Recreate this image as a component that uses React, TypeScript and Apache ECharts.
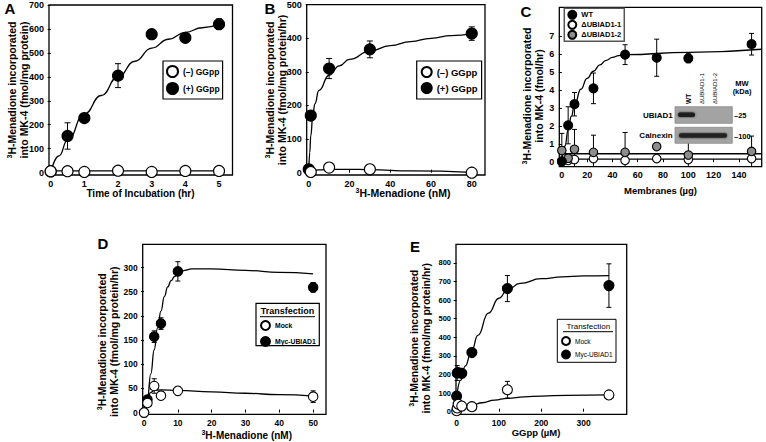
import React, { useEffect, useRef } from 'react';
import * as echarts from 'echarts';

const FONT = '"Liberation Sans", Arial, Helvetica, sans-serif';

// ---------- Panel A ----------
const aTime = [0, 0.5, 1, 2, 3, 4, 5];
const aPlus = [5, 153, 228, 405, 578, 563, 620];
const aPlusErr = [0, 55, 0, 50, 20, 0, 22];
const aMinus = [6, 6, 3, 8, 3, 7, 7];
const aMinusErr = [0, 0, 18, 0, 18, 0, 0];
const aFitX = [0, 0.25, 0.5, 1, 1.5, 2, 2.5, 3, 3.5, 4, 4.5, 5];
const aFitPlus = [0, 70, 136, 245, 322, 400, 465, 520, 557, 586, 605, 620];
const aFitMinusX = [0, 5];
const aFitMinus = [7, 7];
const aXTicks = [0, 1, 2, 3, 4, 5];
const aYTicks = [0, 100, 200, 300, 400, 500, 600, 700];

// ---------- Panel B ----------
const bConc = [0, 1, 10, 30, 80];
const bPlus = [10, 170, 310, 367, 414];
const bPlusErr = [0, 0, 30, 25, 20];
const bMinusX = [1, 10, 30, 80];
const bMinus = [2, 15, 10, 0];
const bFitX = [0, 0.5, 1, 2, 3, 5, 10, 15, 20, 30, 40, 50, 60, 70, 80];
const bFitPlus = [0, 60, 110, 170, 205, 245, 290, 318, 337, 362, 378, 390, 400, 408, 414];
const bFitMinusX = [0, 5, 10, 20, 30, 50, 80];
const bFitMinus = [3, 8, 10, 10, 9, 5, 1];
const bXTicks = [0, 20, 40, 60, 80];
const bYTicks = [0, 100, 200, 300, 400, 500];

// ---------- Panel C ----------
const cMem = [0, 5, 10, 25, 50, 75, 100, 150];
const cWT = [0.05, 2.05, 3.22, 4.1, 5.97, 5.8, 5.77, 6.55];
const cWTErr = [0, 1.03, 0.65, 0.85, 0.55, 1.03, 0.25, 0.6];
const cKO1 = [0.05, 0.1, 0.15, 0.2, 0.1, 0.2, 0.15, 0.2];
const cKO2 = [0.65, 0.22, 0.72, 0.55, 0.55, 0.87, 0.4, 0.6];
const cKO2Err = [0.95, 0, 1.1, 0.95, 1.1, 0, 0.9, 0.85];
const cFitX = [0, 2.5, 5, 7.5, 10, 15, 20, 25, 30, 35, 40, 45, 50, 100, 158];
const cFitWT = [0, 0.9, 1.8, 2.55, 3.15, 4.05, 4.65, 5.05, 5.4, 5.65, 5.82, 5.92, 5.97, 6.1, 6.27];
const cFitFlatX = [-2, 158];
const cFitKO1 = [0.17, 0.17];
const cFitKO2 = [0.47, 0.47];
const cXTicks = [0, 20, 40, 60, 80, 100, 120, 140];
const cYTicks = [0, 1, 2, 3, 4, 5, 6, 7];

// ---------- Panel D ----------
const dConc = [0, 1, 3, 5, 10, 50];
const dMyc = [0, 27, 157, 184, 292, 259];
const dMycErr = [0, 5, 12, 12, 20, 10];
const dMock = [0, 20, 55, 35, 45, 33];
const dMockErr = [0, 0, 15, 0, 8, 12];
const dFitMycX = [0, 1, 2, 3, 4, 5, 6, 7, 8, 9, 10, 12, 14, 20, 30, 40, 50];
const dFitMyc = [5, 30, 80, 130, 175, 210, 240, 260, 273, 281, 287, 294, 297, 297, 294, 290, 287];
const dFitMockX = [0, 1, 2, 3, 5, 10, 20, 30, 40, 50];
const dFitMock = [8, 30, 42, 46, 47, 46, 43, 40, 37, 34];
const dXTicks = [0, 10, 20, 30, 40, 50];
const dYTicks = [0, 50, 100, 150, 200, 250, 300];

// ---------- Panel E ----------
const eGG = [0, 1.2, 3.6, 12, 36, 120, 360];
const eMyc = [84, 208, 210, 206, 318, 662, 678];
const eMycErr = [0, 40, 0, 0, 15, 70, 117];
const eMock = [5, 20, 40, 30, 27, 118, 90];
const eMockErr = [0, 0, 0, 0, 0, 45, 10];
const eFitMycX = [0, 10, 20, 36, 50, 75, 100, 120, 150, 200, 250, 300, 360];
const eFitMyc = [80, 170, 245, 330, 410, 530, 610, 655, 690, 715, 725, 730, 732];
const eFitMockX = [0, 12, 36, 60, 90, 120, 160, 200, 260, 360];
const eFitMock = [15, 22, 35, 48, 62, 72, 80, 84, 88, 90];
const eXTicks = [0, 100, 200, 300];
const eYTicks = [0, 100, 200, 300, 400, 500, 600, 700, 800];

const pts = (xs: number[], ys: number[]) => xs.map((x, i) => [x, ys[i]]);
const errs = (xs: number[], ys: number[], es: number[]) =>
  xs.map((x, i) => [x, ys[i] - es[i], ys[i] + es[i]]).filter((d) => d[2] > d[1]);

function errSeries(idx: number, data: number[][], cap = 3, clip = false) {
  return {
    type: 'custom',
    xAxisIndex: idx,
    yAxisIndex: idx,
    data,
    z: 2,
    silent: true,
    clip,
    encode: { x: 0, y: [1, 2] },
    renderItem: (_p: any, api: any) => {
      const x = api.value(0);
      const p1 = api.coord([x, api.value(2)]);
      const p2 = api.coord([x, api.value(1)]);
      const st = { stroke: '#000', lineWidth: 1 };
      return {
        type: 'group',
        children: [
          { type: 'line', shape: { x1: p1[0], y1: p1[1], x2: p2[0], y2: p2[1] }, style: st },
          { type: 'line', shape: { x1: p1[0] - cap, y1: p1[1], x2: p1[0] + cap, y2: p1[1] }, style: st },
          { type: 'line', shape: { x1: p2[0] - cap, y1: p2[1], x2: p2[0] + cap, y2: p2[1] }, style: st },
        ],
      };
    },
  };
}

function dots(idx: number, name: string, data: number[][], size: number, fill: string) {
  return {
    type: 'scatter',
    name,
    xAxisIndex: idx,
    yAxisIndex: idx,
    data,
    symbol: 'circle',
    symbolSize: size,
    z: 4,
    itemStyle: { color: fill, borderColor: '#000', borderWidth: 1.1, opacity: 1 },
  };
}

function fit(idx: number, name: string, data: number[][]) {
  return {
    type: 'line',
    name,
    xAxisIndex: idx,
    yAxisIndex: idx,
    data,
    smooth: true,
    smoothMonotone: 'x',
    symbol: 'none',
    showSymbol: false,
    silent: true,
    z: 3,
    lineStyle: { color: '#000', width: 1.3 },
  };
}

function xAx(idx: number, min: number, max: number, ticks: number[], fs = 9) {
  return {
    type: 'value',
    gridIndex: idx,
    min,
    max,
    axisLine: { show: false },
    splitLine: { show: false },
    axisTick: { show: true, inside: true, length: 3, lineStyle: { color: '#000', width: 1 }, customValues: ticks },
    axisLabel: { customValues: ticks, color: '#000', fontSize: fs, fontWeight: 'bold', fontFamily: FONT, margin: 4 },
  };
}
function yAx(idx: number, min: number, max: number, ticks: number[], fs = 9) {
  return {
    type: 'value',
    gridIndex: idx,
    min,
    max,
    axisLine: { show: false },
    splitLine: { show: false },
    axisTick: { show: true, inside: false, length: 3, lineStyle: { color: '#000', width: 1 }, customValues: ticks },
    axisLabel: { customValues: ticks, color: '#000', fontSize: fs, fontWeight: 'bold', fontFamily: FONT, margin: 5 },
  };
}

const gridBox = (left: number, top: number, width: number, height: number) => ({
  left, top, width, height, show: true, borderColor: '#000', borderWidth: 1.3, backgroundColor: 'transparent',
});

const supRich = (fs: number) => ({
  s: { fontSize: fs, fontWeight: 'bold', fontFamily: FONT, fill: '#000', verticalAlign: 'top' },
});

function label(x: number, y: number, text: string, fs: number, extra: any = {}, rot = 0, bold = true) {
  return {
    type: 'text',
    x,
    y,
    rotation: rot,
    silent: true,
    z: 10,
    style: {
      text,
      fontSize: fs,
      fontWeight: bold ? 'bold' : 'normal',
      fontFamily: FONT,
      fill: '#000',
      align: 'center',
      verticalAlign: 'middle',
      textAlign: 'center',
      textVerticalAlign: 'middle',
      lineHeight: fs + 1.5,
      rich: supRich(Math.round(fs * 0.65)),
      ...extra,
    },
  };
}
const yTitle = (x: number, y: number, line2: string, fs = 10.5) =>
  label(x, y, `{s|3}H-Menadione incorporated\n${line2}`, fs, {}, Math.PI / 2);

const legendBase = {
  orient: 'vertical',
  selectedMode: false,
  backgroundColor: '#fff',
  textStyle: { color: '#000', fontWeight: 'bold', fontFamily: FONT },
};

export default function App() {
  const ref = useRef<HTMLDivElement>(null);
  useEffect(() => {
    if (!ref.current) return;
    const chart = echarts.init(ref.current, null, { renderer: 'svg' });
    const option: any = {
      animation: false,
      backgroundColor: '#fff',
      textStyle: { fontFamily: FONT },
      grid: [
        gridBox(49, 5, 183.5, 170),
        gridBox(306.7, 4.7, 178.3, 170.3),
        gridBox(559.3, 7.3, 202.4, 159.4),
        gridBox(142.7, 244.3, 183.3, 170),
        gridBox(456, 244.3, 170.7, 170),
      ],
      xAxis: [
        xAx(0, -0.05, 5.4, aXTicks),
        xAx(1, -1, 86.5, bXTicks),
        xAx(2, -2, 158, cXTicks),
        xAx(3, -0.4, 53.8, dXTicks, 8.5),
        xAx(4, -1.5, 402, eXTicks, 8.5),
      ],
      yAxis: [
        yAx(0, -10, 700, aYTicks),
        yAx(1, -7, 500, bYTicks),
        yAx(2, -0.25, 8.6, cYTicks),
        yAx(3, -3.5, 348, dYTicks, 8.5),
        yAx(4, -14, 900, eYTicks, 7.5),
      ],
      legend: [
        {
          ...legendBase,
          left: 163, top: 61, padding: [4, 3, 4, 3], itemWidth: 11, itemHeight: 11, itemGap: 4,
          borderColor: '#000', borderWidth: 1.2,
          textStyle: { ...legendBase.textStyle, fontSize: 8.5 },
          data: ['(–) GGpp', '(+) GGpp'],
        },
        {
          ...legendBase,
          left: 416.7, top: 61, padding: [5, 4, 5, 4], itemWidth: 10, itemHeight: 10, itemGap: 4,
          borderColor: '#000', borderWidth: 1.2,
          textStyle: { ...legendBase.textStyle, fontSize: 9.5 },
          data: ['(–) GGpp', '(+) GGpp'],
        },
        {
          ...legendBase,
          left: 564.3, top: 8.3, padding: [1.5, 3, 1.5, 3], itemWidth: 8, itemHeight: 8, itemGap: 0,
          borderColor: '#555', borderWidth: 1.5,
          textStyle: { ...legendBase.textStyle, fontSize: 7.5, lineHeight: 7.5 },
          data: ['WT', 'ΔUBIAD1-1', 'ΔUBIAD1-2'],
        },
        {
          ...legendBase,
          left: 260, top: 320, padding: 0, itemWidth: 9, itemHeight: 9, itemGap: 5,
          backgroundColor: 'transparent',
          textStyle: { ...legendBase.textStyle, fontSize: 6.8 },
          data: ['Mock', 'Myc-UBIAD1'],
        },
        {
          ...legendBase,
          left: 561, top: 336, padding: 0, itemWidth: 8, itemHeight: 8, itemGap: 3.5,
          backgroundColor: 'transparent',
          textStyle: { ...legendBase.textStyle, fontSize: 6.5, fontWeight: 'normal' },
          data: ['Mock', 'Myc-UBIAD1'],
        },
      ],
      series: [
        // A
        errSeries(0, errs(aTime, aPlus, aPlusErr)),
        errSeries(0, errs(aTime, aMinus, aMinusErr)),
        fit(0, 'fitA+', pts(aFitX, aFitPlus)),
        fit(0, 'fitA-', pts(aFitMinusX, aFitMinus)),
        dots(0, '(+) GGpp', pts(aTime, aPlus), 11, '#000'),
        dots(0, '(–) GGpp', pts(aTime, aMinus), 11, '#fff'),
        // B
        errSeries(1, errs(bConc, bPlus, bPlusErr)),
        fit(1, 'fitB+', pts(bFitX, bFitPlus)),
        fit(1, 'fitB-', pts(bFitMinusX, bFitMinus)),
        dots(1, '(+) GGpp', pts(bConc, bPlus), 11, '#000'),
        dots(1, '(–) GGpp', pts(bMinusX, bMinus), 11, '#fff'),
        // C
        errSeries(2, errs(cMem, cWT, cWTErr), 2.5),
        errSeries(2, errs(cMem, cKO2, cKO2Err), 2.5, true),
        fit(2, 'fitCWT', pts(cFitX, cFitWT)),
        fit(2, 'fitCKO1', pts(cFitFlatX, cFitKO1)),
        fit(2, 'fitCKO2', pts(cFitFlatX, cFitKO2)),
        dots(2, 'ΔUBIAD1-1', pts(cMem, cKO1), 8.5, '#fff'),
        dots(2, 'ΔUBIAD1-2', pts(cMem, cKO2), 8.5, '#8c8c8c'),
        dots(2, 'WT', pts(cMem, cWT), 9, '#000'),
        // D
        errSeries(3, errs(dConc, dMyc, dMycErr), 2.5),
        errSeries(3, errs(dConc, dMock, dMockErr), 2.5),
        fit(3, 'fitDMyc', pts(dFitMycX, dFitMyc)),
        fit(3, 'fitDMock', pts(dFitMockX, dFitMock)),
        dots(3, 'Myc-UBIAD1', pts(dConc, dMyc), 9.5, '#000'),
        dots(3, 'Mock', pts(dConc, dMock), 9.5, '#fff'),
        // E
        errSeries(4, errs(eGG, eMyc, eMycErr), 2.5),
        errSeries(4, errs(eGG, eMock, eMockErr), 2.5),
        fit(4, 'fitEMyc', pts(eFitMycX, eFitMyc)),
        fit(4, 'fitEMock', pts(eFitMockX, eFitMock)),
        dots(4, 'Myc-UBIAD1', pts(eGG, eMyc), 10, '#000'),
        dots(4, 'Mock', pts(eGG, eMock), 10, '#fff'),
      ],
      graphic: [
        // panel letters
        label(10, 8.5, 'A', 15),
        label(270, 8.5, 'B', 15),
        label(526, 11.5, 'C', 15),
        label(103, 243, 'D', 15),
        label(415, 246.7, 'E', 15),
        // y titles
        yTitle(18, 90, 'into MK-4 (fmol/mg protein)'),
        yTitle(275.5, 90, 'into MK-4 (fmol/mg protein/hr)'),
        yTitle(533, 96, 'into MK-4 (fmol/hr)'),
        yTitle(108, 341.7, 'into MK-4 (fmol/mg protein/hr)'),
        yTitle(419.5, 338.3, 'into MK-4 (fmol/mg protein/hr)'),
        // x titles
        label(140.5, 193, 'Time of Incubation (hr)', 10),
        label(403, 193, '{s|3}H-Menadione (nM)', 10.5),
        label(660.5, 190, 'Membranes (µg)', 9.5),
        label(246.7, 435, '{s|3}H-Menadione (nM)', 10),
        label(536, 432, 'GGpp (µM)', 9.5),
        // C inset blot
        { type: 'rect', z: 5, silent: true, shape: { x: 675, y: 106.7, width: 57.3, height: 16.6 }, style: { fill: '#a3a3a3', stroke: '#8a8a8a', lineWidth: 0.8 } },
        { type: 'rect', z: 6, silent: true, shape: { x: 678, y: 112.5, width: 17, height: 4.5, r: 2 }, style: { fill: '#1c1c1c', shadowBlur: 2, shadowColor: '#333' } },
        { type: 'rect', z: 5, silent: true, shape: { x: 675, y: 127.3, width: 57.3, height: 16 }, style: { fill: '#a3a3a3', stroke: '#8a8a8a', lineWidth: 0.8 } },
        { type: 'rect', z: 6, silent: true, shape: { x: 679, y: 133.2, width: 48, height: 4.5, r: 2 }, style: { fill: '#222', shadowBlur: 2, shadowColor: '#333' } },
        label(672.7, 115, 'UBIAD1', 8, { align: 'right', textAlign: 'right' }),
        label(672.7, 135.5, 'Calnexin', 8, { align: 'right', textAlign: 'right' }),
        label(734, 115.7, '–25', 7.5, { align: 'left', textAlign: 'left' }),
        label(734, 136.7, '–100', 7.5, { align: 'left', textAlign: 'left' }),
        label(742, 83.3, 'MW', 7.5),
        label(742, 91, '(kDa)', 7.5),
        label(688.5, 104, 'WT', 6.5, { align: 'left', textAlign: 'left' }, Math.PI / 2),
        label(701.5, 104, 'ΔUBIAD1-1', 6, { align: 'left', textAlign: 'left' }, Math.PI / 2, false),
        label(715, 104, 'ΔUBIAD1-2', 6, { align: 'left', textAlign: 'left' }, Math.PI / 2, false),
        // D legend box
        { type: 'rect', z: 3, silent: true, shape: { x: 256, y: 303.3, width: 63.3, height: 42.4 }, style: { fill: '#fff', stroke: '#000', lineWidth: 1.2 } },
        label(287.5, 311.3, 'Transfection', 9),
        { type: 'line', z: 4, silent: true, shape: { x1: 260, y1: 316.7, x2: 315, y2: 316.7 }, style: { stroke: '#000', lineWidth: 1 } },
        // E legend box
        { type: 'rect', z: 3, silent: true, shape: { x: 557.3, y: 319.3, width: 58.7, height: 43 }, style: { fill: '#fff', stroke: '#000', lineWidth: 1 } },
        label(588.3, 326, 'Transfection', 8, {}, 0, false),
        { type: 'line', z: 4, silent: true, shape: { x1: 563, y1: 331.7, x2: 613, y2: 331.7 }, style: { stroke: '#000', lineWidth: 1 } },
      ],
    };
    chart.setOption(option);
    return () => chart.dispose();
  }, []);
  return (
    <div
      ref={ref}
      style={{ position: 'absolute', left: 0, top: 0, width: 766, height: 442, background: '#fff' }}
    />
  );
}
